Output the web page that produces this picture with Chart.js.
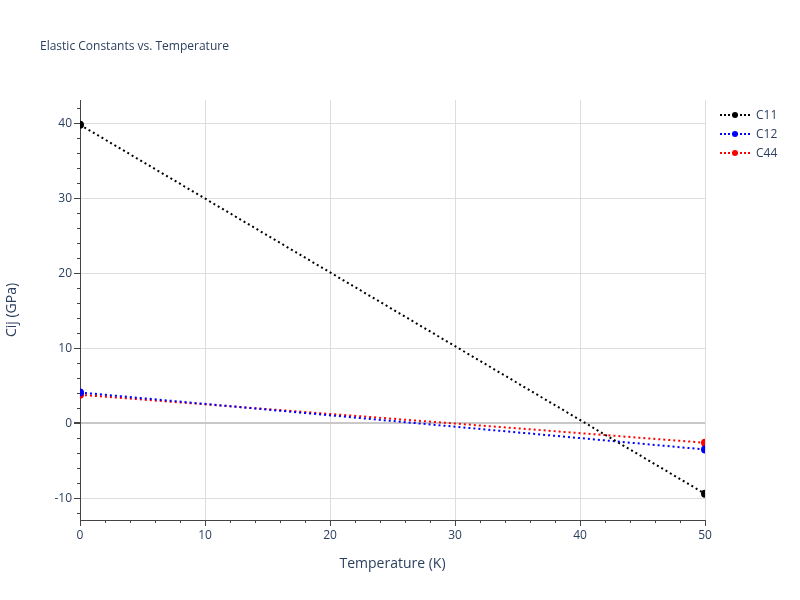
<!DOCTYPE html>
<html>
<head>
<meta charset="utf-8">
<script src="https://cdn.jsdelivr.net/npm/chart.js@4/dist/chart.umd.min.js"></script>
<style>
  body { margin: 0; background: #fff; font-family: "Open Sans", sans-serif; }
  #wrap { position: relative; width: 800px; height: 600px; }
  #title { position: absolute; left: 40px; top: 37px; font-size: 12px; color: #2a3f5f; }
  #legend { position: absolute; left: 720px; top: 105px; font-size: 12px; color: #2a3f5f; }
  .item { height: 19px; display: flex; align-items: center; }
  .item svg { margin-right: 6px; }
</style>
</head>
<body>
<div id="wrap">
  <canvas id="c" width="800" height="600"></canvas>
  <div id="title">Elastic Constants vs. Temperature</div>
  <div id="legend"></div>
</div>
<script>
// データ
const temps = [0, 50];
const c11 = [39.8, -9.4];
const c12 = [4.1, -3.5];
const c44 = [3.8, -2.6];
const names = ["C11", "C12", "C44"];
const colors = ["#000000", "#0000ff", "#ff0000"];
const xTicks = [0, 10, 20, 30, 40, 50];
const yTicks = [-10, 0, 10, 20, 30, 40];

const series = [c11, c12, c44];

// 凡例
const legend = document.getElementById("legend");
names.forEach((n, i) => {
  const d = document.createElement("div");
  d.className = "item";
  d.innerHTML = `<svg width="30" height="10"><line x1="0" y1="5" x2="30" y2="5" stroke="${colors[i]}" stroke-width="2" stroke-dasharray="2,2"/><circle cx="15" cy="5" r="3" fill="${colors[i]}"/></svg>${n}`;
  legend.appendChild(d);
});

// 副目盛り (2刻み)
const minorTicks = {
  id: "minorTicks",
  afterDraw(chart) {
    const ctx = chart.ctx;
    const x = chart.scales.x, y = chart.scales.y;
    const a = chart.chartArea;
    ctx.save();
    ctx.strokeStyle = "#444";
    ctx.lineWidth = 1;
    ctx.beginPath();
    for (let v = -12; v <= 42; v += 2) {
      if (v % 10 === 0) continue;
      const py = Math.round(y.getPixelForValue(v)) + 0.5;
      ctx.moveTo(a.left, py); ctx.lineTo(a.left - 3, py);
    }
    for (let v = 2; v < 50; v += 2) {
      if (v % 10 === 0) continue;
      const px = Math.round(x.getPixelForValue(v)) + 0.5;
      ctx.moveTo(px, a.bottom); ctx.lineTo(px, a.bottom + 3);
    }
    ctx.stroke();
    ctx.restore();
  }
};

new Chart(document.getElementById("c"), {
  type: "line",
  data: {
    datasets: series.map((s, i) => ({
      label: names[i],
      data: temps.map((t, j) => ({ x: t, y: s[j] })),
      borderColor: colors[i],
      backgroundColor: colors[i],
      borderWidth: 2,
      borderDash: [2, 3],
      pointRadius: 3,
      pointHoverRadius: 3,
      tension: 0
    }))
  },
  options: {
    responsive: false,
    animation: false,
    layout: { padding: { left: 0, top: 100, right: 95, bottom: 24 } },
    plugins: { legend: { display: false }, tooltip: { enabled: false } },
    scales: {
      x: {
        type: "linear", min: 0, max: 50,
        afterBuildTicks: s => { s.ticks = xTicks.map(v => ({ value: v })); },
        afterFit: s => { s.height = 56; },
        grid: {
          color: "#dddddd", drawTicks: true, tickLength: 6, tickColor: "#444", tickWidth: 1
        },
        border: { color: "#444", width: 1 },
        ticks: { color: "#2a3f5f", font: { family: "Open Sans", size: 12 }, padding: 2 },
        title: { display: true, text: "Temperature (K)", color: "#2a3f5f", font: { family: "Open Sans", size: 14 }, padding: { top: 12 } }
      },
      y: {
        type: "linear", min: -12.9, max: 43.1,
        afterBuildTicks: s => { s.ticks = yTicks.map(v => ({ value: v })); },
        afterFit: s => { s.width = 80; },
        grid: {
          color: ctx => ctx.tick && ctx.tick.value === 0 ? "#c8c8c8" : "#dddddd",
          lineWidth: ctx => ctx.tick && ctx.tick.value === 0 ? 2 : 1,
          drawTicks: true, tickLength: 6, tickColor: "#444"
        },
        border: { color: "#444", width: 1 },
        ticks: { color: "#2a3f5f", font: { family: "Open Sans", size: 12 }, padding: 2 },
        title: { display: true, text: "Cij (GPa)", color: "#2a3f5f", font: { family: "Open Sans", size: 14 }, padding: { bottom: 14 } }
      }
    }
  },
  plugins: [minorTicks]
});
</script>
</body>
</html>
